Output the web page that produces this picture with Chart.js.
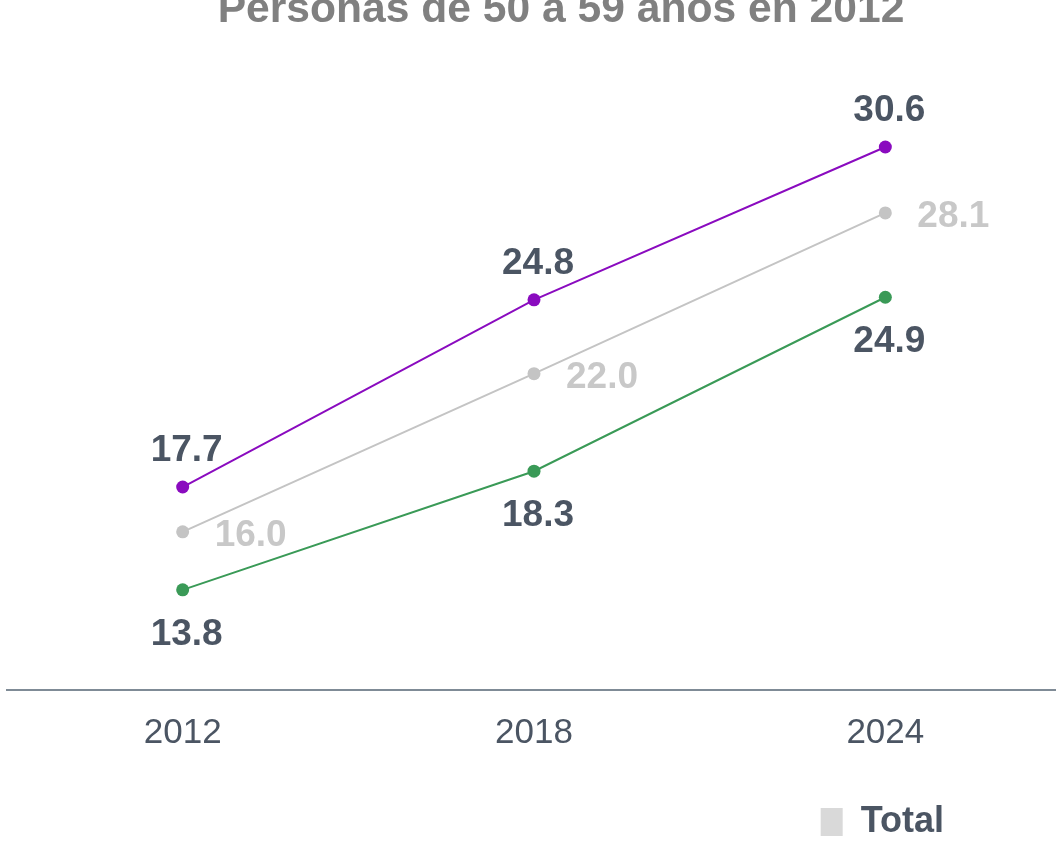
<!DOCTYPE html>
<html>
<head>
<meta charset="utf-8">
<script src="https://cdn.jsdelivr.net/npm/chart.js@4"></script>
<style>
    html, body { margin: 0; padding: 0; background: #ffffff; overflow: hidden; }
    body { width: 1056px; height: 842px; }
    #wrap { width: 1062px; height: 842px; position: relative; }
</style>
</head>
<body>
<div id="wrap"><canvas id="chart" width="1062" height="842"></canvas></div>
<script>
// Data
const years = ['2012', '2018', '2024'];
const upperValues = [17.7, 24.8, 30.6];
const totalValues = [16.0, 22.0, 28.1];
const lowerValues = [13.8, 18.3, 24.9];

const titleText = 'Personas de 50 a 59 años en 2012';

// Title sits a bit right of centre and runs off the top edge in the original
const topTitle = {
    id: 'topTitle',
    afterDraw(chart) {
        const ctx = chart.ctx;
        ctx.save();
        ctx.font = 'bold 42.6px "Liberation Sans", Arial, sans-serif';
        ctx.fillStyle = '#808080';
        ctx.textAlign = 'center';
        ctx.textBaseline = 'middle';
        ctx.fillText(titleText, 561, 10);
        ctx.restore();
    }
};

// Value labels next to each point (position/colour come from the dataset)
const pointLabels = {
    id: 'pointLabels',
    afterDatasetsDraw(chart) {
        const ctx = chart.ctx;
        ctx.save();
        ctx.font = 'bold 37px "Liberation Sans", Arial, sans-serif';
        chart.data.datasets.forEach((ds, i) => {
            const meta = chart.getDatasetMeta(i);
            ctx.fillStyle = ds.labelColor;
            ctx.textBaseline = 'middle';
            meta.data.forEach((pt, j) => {
                const txt = ds.data[j].toFixed(1);
                if (ds.labelPos === 'above') {
                    ctx.textAlign = 'center';
                    ctx.fillText(txt, pt.x + 4, pt.y - 36);
                } else if (ds.labelPos === 'below') {
                    ctx.textAlign = 'center';
                    ctx.fillText(txt, pt.x + 4, pt.y + 45);
                } else {
                    ctx.textAlign = 'left';
                    ctx.fillText(txt, pt.x + 32, pt.y + 4);
                }
            });
        });
        ctx.restore();
    }
};

Chart.defaults.font.family = '"Liberation Sans", Arial, sans-serif';

new Chart(document.getElementById('chart'), {
    type: 'line',
    data: {
        labels: years,
        datasets: [
            {
                label: 'Serie superior',
                data: upperValues,
                borderColor: '#8a0bbf',
                backgroundColor: '#8a0bbf',
                pointBackgroundColor: '#8a0bbf',
                labelColor: '#4b5563',
                labelPos: 'above'
            },
            {
                label: 'Total',
                data: totalValues,
                borderColor: '#c4c4c4',
                backgroundColor: '#d9d9d9',
                pointBackgroundColor: '#c4c4c4',
                labelColor: '#c8c8c8',
                labelPos: 'right'
            },
            {
                label: 'Serie inferior',
                data: lowerValues,
                borderColor: '#3a9a57',
                backgroundColor: '#3a9a57',
                pointBackgroundColor: '#3a9a57',
                labelColor: '#4b5563',
                labelPos: 'below'
            }
        ]
    },
    options: {
        responsive: false,
        devicePixelRatio: 1,
        animation: false,
        layout: { autoPadding: false, padding: { left: 7, right: 1, top: 31, bottom: 0 } },
        elements: {
            line: { borderWidth: 2, tension: 0, fill: false },
            point: { radius: 6.5, borderWidth: 0, hoverRadius: 6.5 }
        },
        plugins: {
            title: { display: false },
            legend: {
                position: 'bottom',
                align: 'end',
                maxHeight: 152,
                // empty title with negative padding just pulls the row up a little
                title: { display: true, text: '', font: { size: 10 }, padding: { top: -7.5, bottom: -7.5 } },
                labels: {
                    color: '#4b5563',
                    font: { size: 36, weight: 'bold' },
                    boxWidth: 22,
                    boxHeight: 28,
                    padding: 117,
                    filter: item => item.text === 'Total',
                    generateLabels: chart => Chart.defaults.plugins.legend.labels.generateLabels(chart)
                        .map(l => Object.assign(l, { lineWidth: 0, strokeStyle: 'rgba(0,0,0,0)' }))
                }
            },
            tooltip: { enabled: false }
        },
        scales: {
            x: {
                // pinned to the bottom of the value range so it takes no layout room
                position: { y: 10 },
                offset: true,
                grid: { display: false, drawTicks: false },
                border: { display: true, color: '#7f8b96', width: 2 },
                ticks: { color: '#4b5563', font: { size: 35 }, padding: 22 }
            },
            y: {
                display: false,
                min: 10,
                max: 35
            }
        }
    },
    plugins: [pointLabels, topTitle]
});
</script>
</body>
</html>
